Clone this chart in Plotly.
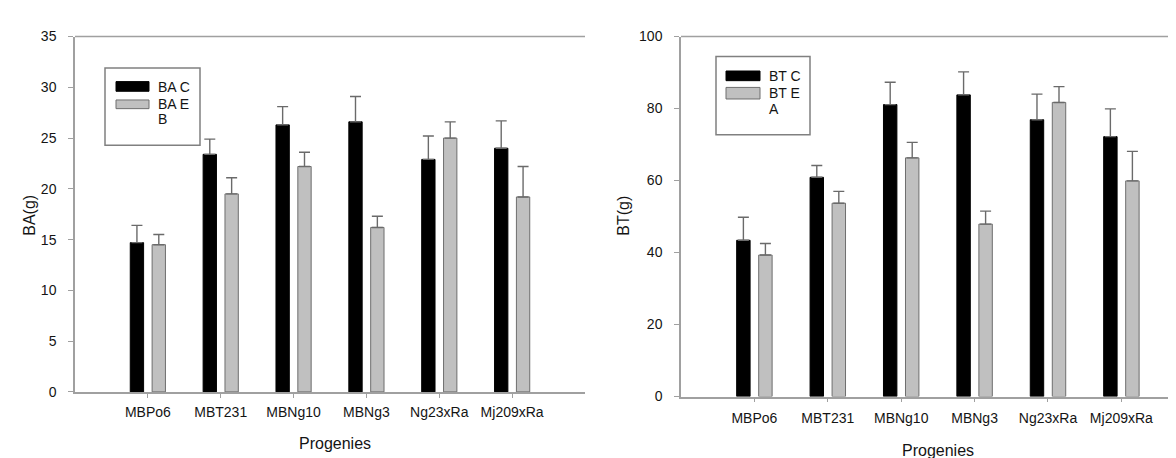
import plotly.graph_objects as go

W, H = 1176, 458

categories = ["MBPo6", "MBT231", "MBNg10", "MBNg3", "Ng23xRa", "Mj209xRa"]

ba_c = [14.7, 23.4, 26.3, 26.6, 22.9, 24.0]
ba_c_err = [1.7, 1.5, 1.8, 2.5, 2.3, 2.7]
ba_e = [14.5, 19.5, 22.2, 16.2, 25.0, 19.2]
ba_e_err = [1.0, 1.6, 1.4, 1.1, 1.6, 3.0]

bt_c = [43.4, 60.9, 81.1, 83.8, 76.9, 72.2]
bt_c_err = [6.4, 3.3, 6.2, 6.4, 7.1, 7.7]
bt_e = [39.3, 53.7, 66.3, 47.9, 81.7, 59.9]
bt_e_err = [3.2, 3.3, 4.3, 3.6, 4.4, 8.2]

left_legend = ["BA C", "BA E", "B"]
right_legend = ["BT C", "BT E", "A"]
left_ytitle, right_ytitle, xtitle = "BA(g)", "BT(g)", "Progenies"

FONT = "Liberation Sans, Arial, sans-serif"
TXT = "#141414"
AX = "#a0a0a0"
BLACK = "#000000"
GREY = "#c0c0c0"
GREY_LINE = "#6e6e6e"
ERR = "#6a6a6a"


def px(x):
    return x / W


def py(y):
    return 1 - y / H


def bar(x, y, err, color, line, xa, ya):
    return go.Bar(
        x=x, y=y, xaxis=xa, yaxis=ya, showlegend=False,
        marker=dict(color=color, line=dict(color=line, width=1)),
        error_y=dict(type="data", array=err, arrayminus=[0] * len(err),
                     symmetric=False, color=ERR, thickness=1.4, width=5.5),
    )


fig = go.Figure()
fig.add_trace(bar(categories, ba_c, ba_c_err, BLACK, BLACK, "x", "y"))
fig.add_trace(bar(categories, ba_e, ba_e_err, GREY, GREY_LINE, "x", "y"))
fig.add_trace(bar(categories, bt_c, bt_c_err, BLACK, BLACK, "x2", "y2"))
fig.add_trace(bar(categories, bt_e, bt_e_err, GREY, GREY_LINE, "x2", "y2"))

axis_common = dict(showgrid=False, zeroline=False, showline=True, linecolor=AX,
                   linewidth=1.5, ticks="outside", tickcolor=AX, tickwidth=1.2,
                   tickfont=dict(family=FONT, size=14, color=TXT))

fig.update_layout(
    width=W, height=H, margin=dict(l=0, r=0, t=0, b=0),
    paper_bgcolor="white", plot_bgcolor="white",
    barmode="group", bargap=0.40, bargroupgap=0.39,
    xaxis=dict(domain=[px(67), px(577)], anchor="y", type="category",
               range=[-1, 6], ticklen=4, ticklabelstandoff=3, **axis_common),
    yaxis=dict(domain=[py(389.5), py(21.3)], anchor="x", range=[0, 35],
               tickvals=[0, 5, 10, 15, 20, 25, 30, 35], ticklen=5,
               ticklabelstandoff=9, **axis_common),
    xaxis2=dict(domain=[px(673), 1.0], anchor="y2", type="category",
                range=[-1, 5.853], ticklen=4, ticklabelstandoff=4, **axis_common),
    yaxis2=dict(domain=[py(394.3), py(21.3)], anchor="x2", range=[0, 100],
                tickvals=[0, 20, 40, 60, 80, 100], ticklen=5,
                ticklabelstandoff=9, **axis_common),
)

shapes = []
# top border lines
shapes.append(dict(type="line", xref="paper", yref="paper", x0=px(67), x1=px(577),
                   y0=py(21.3), y1=py(21.3), line=dict(color=AX, width=1.5)))
shapes.append(dict(type="line", xref="paper", yref="paper", x0=px(673), x1=1.0,
                   y0=py(21.3), y1=py(21.3), line=dict(color=AX, width=1.5)))

annotations = []


def legend(box, sw_x, sw1, sw2, tx, tys, labels):
    shapes.append(dict(type="rect", xref="paper", yref="paper",
                       x0=px(box[0]), x1=px(box[1]), y0=py(box[3]), y1=py(box[2]),
                       line=dict(color="#808080", width=1.5), fillcolor="white"))
    shapes.append(dict(type="rect", xref="paper", yref="paper",
                       x0=px(sw_x[0]), x1=px(sw_x[1]), y0=py(sw1[1]), y1=py(sw1[0]),
                       line=dict(color=BLACK, width=1), fillcolor=BLACK))
    shapes.append(dict(type="rect", xref="paper", yref="paper",
                       x0=px(sw_x[0]), x1=px(sw_x[1]), y0=py(sw2[1]), y1=py(sw2[0]),
                       line=dict(color=GREY_LINE, width=1), fillcolor=GREY))
    for lab, ty in zip(labels, tys):
        annotations.append(dict(text=lab, xref="paper", yref="paper", x=px(tx), y=py(ty),
                                xanchor="left", yanchor="middle", showarrow=False,
                                font=dict(family=FONT, size=14, color=TXT)))


legend((97, 192, 54, 134), (108, 141), (68, 78), (87, 96), 148, (73.3, 91.7, 106.7), left_legend)
legend((708, 802, 42, 123), (718, 752), (57, 67), (74, 86), 759, (61.7, 79.3, 96.7), right_legend)

for text, x, y, ang in [(left_ytitle, 22, 207, -90), (right_ytitle, 616, 207, -90),
                        (xtitle, 327, 443, 0), (xtitle, 930, 450, 0)]:
    annotations.append(dict(text=text, xref="paper", yref="paper", x=px(x), y=py(y),
                            xanchor="center", yanchor="middle", showarrow=False,
                            textangle=ang, font=dict(family=FONT, size=16, color=TXT)))

fig.update_layout(shapes=shapes, annotations=annotations)
fig.write_html("out.html")
